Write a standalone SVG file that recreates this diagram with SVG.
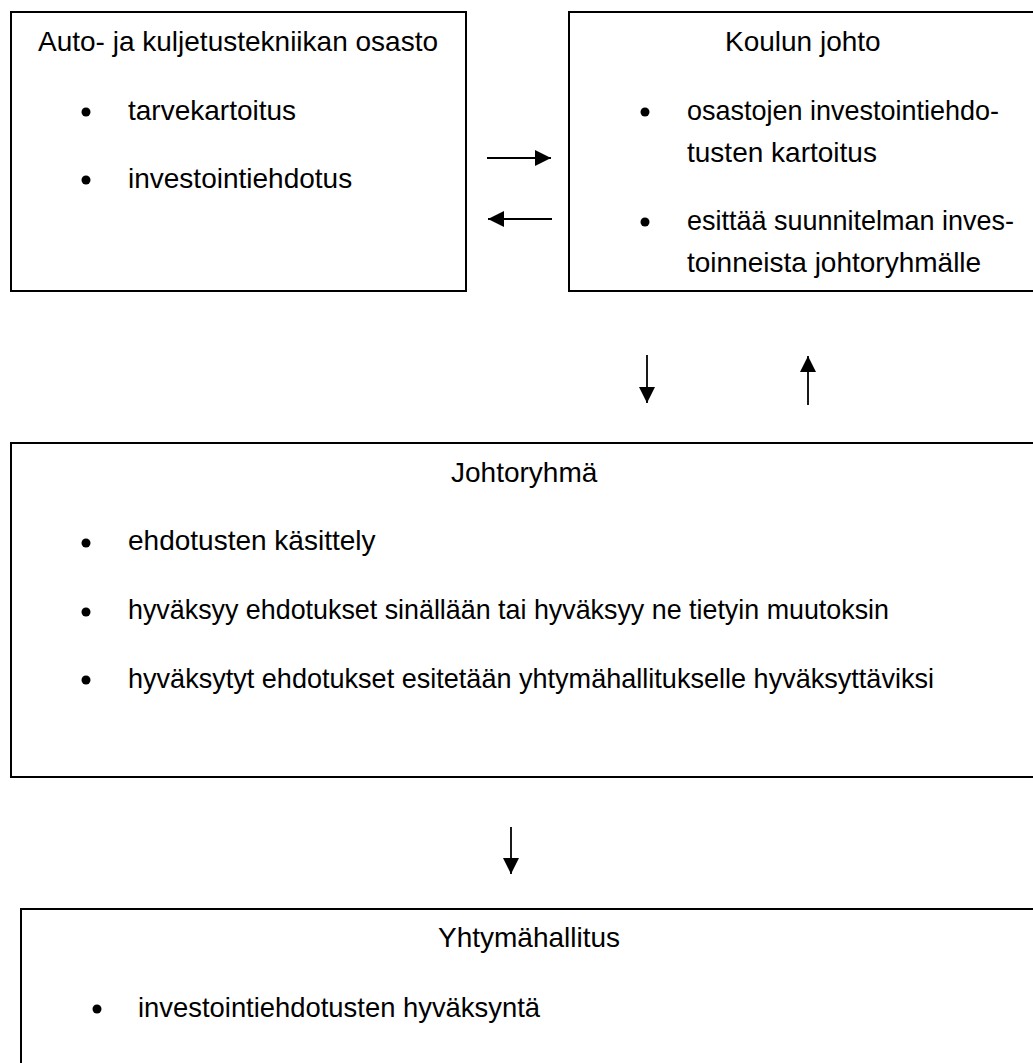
<svg xmlns="http://www.w3.org/2000/svg" width="1033" height="1063" viewBox="0 0 1033 1063">
<style>
.box{fill:#fff;stroke:#000;stroke-width:2}
.t{font-family:"Liberation Sans",Arial,sans-serif;font-size:28px;fill:#000}
.b{fill:#000}
.c{stroke:#000;stroke-width:1.8;fill:none}
</style>
<defs>
<marker id="ah" markerUnits="userSpaceOnUse" markerWidth="16" markerHeight="16" refX="16" refY="8" orient="auto">
<path d="M0,0 L16,8 L0,16 z" fill="#000"/>
</marker>
</defs>
<rect width="1033" height="1063" fill="#fff"/>
<g id="node-osasto">
<rect class="box" x="11" y="12" width="455" height="279"/>
<text class="t" x="38" y="51">Auto- ja kuljetustekniikan osasto</text>
<circle class="b" cx="86" cy="112" r="4.5"/>
<text class="t" x="128" y="120">tarvekartoitus</text>
<circle class="b" cx="86" cy="180" r="4.5"/>
<text class="t" x="128" y="188">investointiehdotus</text>
</g>
<g id="node-koulun-johto">
<rect class="box" x="569" y="12" width="480" height="279"/>
<text class="t" x="725" y="51">Koulun johto</text>
<circle class="b" cx="645" cy="112" r="4.5"/>
<text class="t" x="687" y="120" textLength="312" lengthAdjust="spacingAndGlyphs">osastojen investointiehdo-</text>
<text class="t" x="687" y="162">tusten kartoitus</text>
<circle class="b" cx="645" cy="222" r="4.5"/>
<text class="t" x="687" y="230" textLength="327" lengthAdjust="spacingAndGlyphs">esittää suunnitelman inves-</text>
<text class="t" x="687" y="272">toinneista johtoryhmälle</text>
</g>
<g id="node-johtoryhma">
<rect class="box" x="11" y="443" width="1040" height="334"/>
<text class="t" x="451" y="482">Johtoryhmä</text>
<circle class="b" cx="86" cy="543" r="4.5"/>
<text class="t" x="128" y="550">ehdotusten käsittely</text>
<circle class="b" cx="86" cy="612" r="4.5"/>
<text class="t" x="128" y="619" textLength="761" lengthAdjust="spacingAndGlyphs">hyväksyy ehdotukset sinällään tai hyväksyy ne tietyin muutoksin</text>
<circle class="b" cx="86" cy="680" r="4.5"/>
<text class="t" x="128" y="688" textLength="806" lengthAdjust="spacingAndGlyphs">hyväksytyt ehdotukset esitetään yhtymähallitukselle hyväksyttäviksi</text>
</g>
<g id="node-yhtymahallitus">
<rect class="box" x="21" y="909" width="1030" height="180"/>
<text class="t" x="438" y="947">Yhtymähallitus</text>
<circle class="b" cx="97" cy="1009" r="4.5"/>
<text class="t" x="138" y="1017" textLength="402" lengthAdjust="spacingAndGlyphs">investointiehdotusten hyväksyntä</text>
</g>
<g id="connectors">
<line class="c" x1="487" y1="158" x2="551" y2="158" marker-end="url(#ah)"/>
<line class="c" x1="552" y1="219" x2="488" y2="219" marker-end="url(#ah)"/>
<line class="c" x1="647" y1="355" x2="647" y2="403" marker-end="url(#ah)"/>
<line class="c" x1="808" y1="405" x2="808" y2="356" marker-end="url(#ah)"/>
<line class="c" x1="511" y1="827" x2="511" y2="874" marker-end="url(#ah)"/>
</g>
</svg>
